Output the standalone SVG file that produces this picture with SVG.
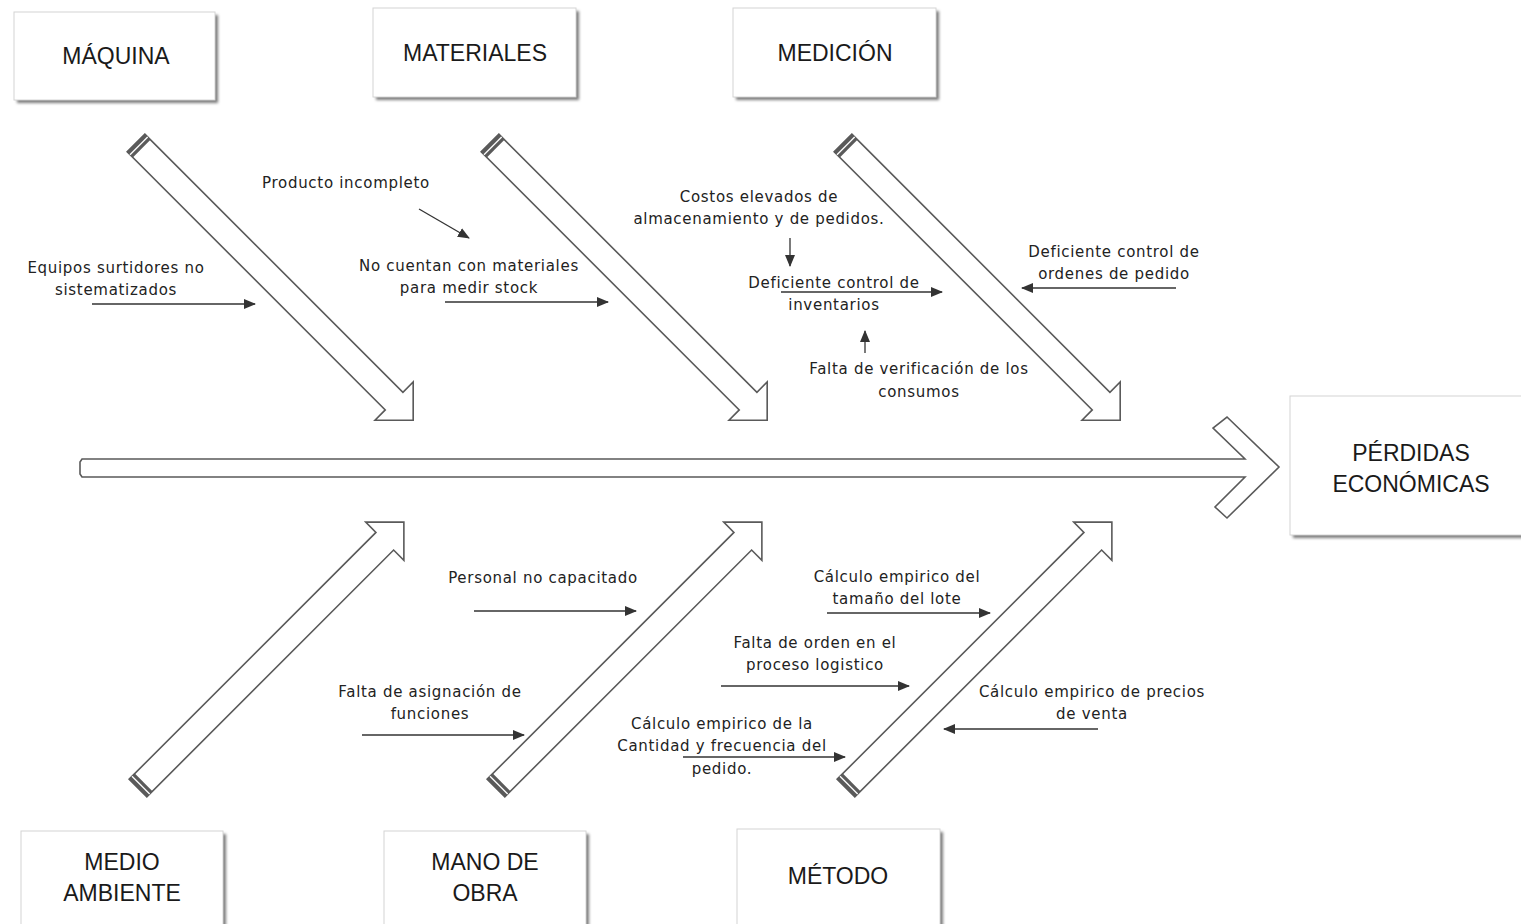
<svg xmlns="http://www.w3.org/2000/svg" width="1521" height="924" viewBox="0 0 1521 924">
<defs>
<style>
.box{fill:#fff;stroke:#d4d4d4;stroke-width:1}
.shadow{fill:#7a7a7a;filter:url(#blur)}
.bt{font-family:"Liberation Sans",Arial,sans-serif;font-size:23px;fill:#1a1a1a;text-anchor:middle}
.lt{font-family:"DejaVu Sans",sans-serif;font-size:15px;letter-spacing:0.7px;fill:#222;text-anchor:middle}
.big{fill:#fff;stroke:#5a5a5a;stroke-width:1.6;stroke-linejoin:miter}
.cap{fill:#5a5a5a}
.capl{stroke:#fff;stroke-width:1.3}
.ln{stroke:#333;stroke-width:1.3;fill:none;marker-end:url(#ah)}
</style>
<filter id="blur" x="-10%" y="-10%" width="120%" height="130%"><feGaussianBlur stdDeviation="1.8"/></filter>
<marker id="ah" markerUnits="userSpaceOnUse" markerWidth="12" markerHeight="10" refX="11" refY="5" orient="auto"><path d="M0,0 L12,5 L0,10 z" fill="#333"/></marker>
<g id="diag">
<polygon class="big" points="0,-12.5 365,-12.5 365,-27 392,0 365,27 365,12.5 0,12.5"/>
<rect class="cap" x="0" y="-12.5" width="8" height="25"/>
<line class="capl" x1="4" y1="-12.5" x2="4" y2="12.5"/>
</g>
<g id="diagB">
<polygon class="big" points="0,-12.5 349,-12.5 349,-27 376,0 349,27 349,12.5 0,12.5"/>
<rect class="cap" x="0" y="-12.5" width="8" height="25"/>
<line class="capl" x1="4" y1="-12.5" x2="4" y2="12.5"/>
</g>
</defs>
<rect width="1521" height="924" fill="#fff"/>

<g id="spine">
<polygon class="big" points="82,459 1245,459 1213,428 1227,417 1279,467 1227,518 1215,507 1245,477 82,477 80,474 80,462"/>
</g>

<g id="bones">
<use href="#diag" transform="translate(136,143) rotate(45)"/>
<use href="#diag" transform="translate(490,143) rotate(45)"/>
<use href="#diag" transform="translate(843,143) rotate(45)"/>
<use href="#diagB" transform="translate(138,788) rotate(-45)"/>
<use href="#diagB" transform="translate(496,788) rotate(-45)"/>
<use href="#diagB" transform="translate(846,788) rotate(-45)"/>
</g>

<g id="maquina">
<rect class="shadow" x="17" y="15" width="201" height="88"/>
<rect class="box" x="14" y="12" width="201" height="88"/>
<text class="bt" x="116" y="64">MÁQUINA</text>
</g>
<g id="materiales">
<rect class="shadow" x="376" y="11" width="203" height="89"/>
<rect class="box" x="373" y="8" width="203" height="89"/>
<text class="bt" x="475" y="61">MATERIALES</text>
</g>
<g id="medicion">
<rect class="shadow" x="736" y="11" width="203" height="89"/>
<rect class="box" x="733" y="8" width="203" height="89"/>
<text class="bt" x="835" y="61">MEDICIÓN</text>
</g>
<g id="perdidas">
<rect class="shadow" x="1293" y="399" width="240" height="139"/>
<rect class="box" x="1290" y="396" width="240" height="139"/>
<text class="bt" x="1411" y="461">PÉRDIDAS</text>
<text class="bt" x="1411" y="492">ECONÓMICAS</text>
</g>
<g id="medio-ambiente">
<rect class="shadow" x="24" y="834" width="202" height="100"/>
<rect class="box" x="21" y="831" width="202" height="100"/>
<text class="bt" x="122" y="870">MEDIO</text>
<text class="bt" x="122" y="901">AMBIENTE</text>
</g>
<g id="mano-de-obra">
<rect class="shadow" x="387" y="834" width="202" height="100"/>
<rect class="box" x="384" y="831" width="202" height="100"/>
<text class="bt" x="485" y="870">MANO DE</text>
<text class="bt" x="485" y="901">OBRA</text>
</g>
<g id="metodo">
<rect class="shadow" x="740" y="832" width="203" height="100"/>
<rect class="box" x="737" y="829" width="203" height="100"/>
<text class="bt" x="838" y="884">MÉTODO</text>
</g>

<g id="connectors">
<line class="ln" x1="419" y1="209" x2="469" y2="238"/>
<line class="ln" x1="92" y1="304" x2="255" y2="304"/>
<line class="ln" x1="445" y1="302" x2="608" y2="302"/>
<line class="ln" x1="790" y1="238" x2="790" y2="266"/>
<line class="ln" x1="781" y1="292" x2="942" y2="292"/>
<line class="ln" x1="865" y1="353" x2="865" y2="331"/>
<line class="ln" x1="1176" y1="288" x2="1022" y2="288"/>
<line class="ln" x1="474" y1="611" x2="636" y2="611"/>
<line class="ln" x1="362" y1="735" x2="524" y2="735"/>
<line class="ln" x1="827" y1="613" x2="990" y2="613"/>
<line class="ln" x1="721" y1="686" x2="909" y2="686"/>
<line class="ln" x1="1098" y1="729" x2="944" y2="729"/>
<line class="ln" x1="683" y1="757" x2="845" y2="757"/>
</g>

<g id="labels">
<text class="lt" x="346" y="188">Producto incompleto</text>
<text class="lt" x="116" y="273">Equipos surtidores no</text>
<text class="lt" x="116" y="295">sistematizados</text>
<text class="lt" x="469" y="271">No cuentan con materiales</text>
<text class="lt" x="469" y="293">para medir stock</text>
<text class="lt" x="759" y="202">Costos elevados de</text>
<text class="lt" x="759" y="224">almacenamiento y de pedidos.</text>
<text class="lt" x="834" y="288">Deficiente control de</text>
<text class="lt" x="834" y="310">inventarios</text>
<text class="lt" x="919" y="374">Falta de verificación de los</text>
<text class="lt" x="919" y="397">consumos</text>
<text class="lt" x="1114" y="257">Deficiente control de</text>
<text class="lt" x="1114" y="279">ordenes de pedido</text>
<text class="lt" x="543" y="583">Personal no capacitado</text>
<text class="lt" x="430" y="697">Falta de asignación de</text>
<text class="lt" x="430" y="719">funciones</text>
<text class="lt" x="897" y="582">Cálculo empirico del</text>
<text class="lt" x="897" y="604">tamaño del lote</text>
<text class="lt" x="815" y="648">Falta de orden en el</text>
<text class="lt" x="815" y="670">proceso logistico</text>
<text class="lt" x="1092" y="697">Cálculo empirico de precios</text>
<text class="lt" x="1092" y="719">de venta</text>
<text class="lt" x="722" y="729">Cálculo empirico de la</text>
<text class="lt" x="722" y="751">Cantidad y frecuencia del</text>
<text class="lt" x="722" y="774">pedido.</text>
</g>
</svg>
